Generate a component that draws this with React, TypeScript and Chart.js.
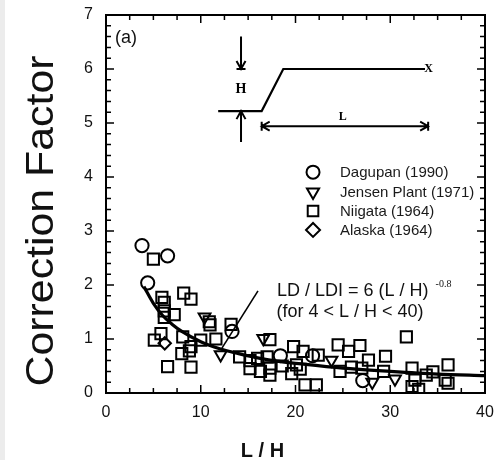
import React, { useEffect, useRef } from 'react';
import { Chart, registerables } from 'chart.js';

Chart.register(...registerables);

// ---- axes ----
const xTickValues = [0, 10, 20, 30, 40];
const yTickValues = [0, 1, 2, 3, 4, 5, 6, 7];
const xMinorStep = 2.5;
const yMinorStep = 0.2;

// ---- series ----
const seriesLabels = ['Dagupan (1990)', 'Jensen Plant (1971)', 'Niigata (1964)', 'Alaska (1964)'];

const dagupan: [number, number][] = [
  [3.8, 2.73], [6.5, 2.54], [4.4, 2.04], [13.3, 1.14], [18.4, 0.69], [21.8, 0.69], [27.1, 0.23],
];

const jensen: [number, number][] = [
  [10.4, 1.41], [12.1, 0.71], [16.6, 1.01], [23.8, 0.61], [28.1, 0.2], [30.5, 0.26],
];

const niigata: [number, number][] = [
  [5.0, 2.48], [5.9, 1.77], [6.15, 1.68], [6.15, 1.52], [7.2, 1.45], [6.15, 1.4], [5.8, 1.1],
  [5.1, 0.98], [8.2, 1.85], [8.97, 1.74], [8.1, 1.04], [8.97, 0.86], [8.8, 0.78], [8.0, 0.73],
  [6.5, 0.49], [8.97, 0.48], [10.0, 0.98], [10.9, 1.32], [10.98, 1.26], [11.6, 1.0], [13.2, 1.27],
  [14.1, 0.67], [15.2, 0.6], [15.2, 0.45], [16.0, 0.64], [16.3, 0.4], [17.0, 0.67], [17.3, 0.99],
  [17.3, 0.33], [17.3, 0.46], [18.6, 0.5], [19.6, 0.36], [19.8, 0.86], [20.1, 0.52], [20.5, 0.44],
  [20.8, 0.77], [21.0, 0.15], [22.2, 0.15], [22.4, 0.7], [24.5, 0.89], [25.6, 0.77], [26.8, 0.88],
  [24.7, 0.4], [25.9, 0.48], [27.0, 0.46], [27.7, 0.61], [29.5, 0.68], [29.3, 0.4], [31.7, 1.04],
  [32.3, 0.46], [32.6, 0.24], [33.0, 0.07], [32.3, 0.12], [33.8, 0.33], [34.5, 0.39], [36.1, 0.52],
  [35.8, 0.24], [36.1, 0.18],
];

const alaska: [number, number][] = [[6.2, 0.92]];

// fitted curve
const fitX = [4, 5, 6, 7, 8, 10, 12, 14, 16, 18, 20, 25, 30, 35, 40];
const fitY = [1.97, 1.66, 1.43, 1.27, 1.14, 0.95, 0.82, 0.73, 0.65, 0.59, 0.55, 0.46, 0.4, 0.35, 0.32];

// inset sketch (data units)
const profileX = [11.84, 16.43, 18.71, 33.67];
const profileY = [5.22, 5.22, 6.0, 6.0];
const hArrowX = 14.25;
const hArrowDownY = [6.6, 6.0];
const hArrowUpY = [4.65, 5.22];
const lArrowX = [16.43, 34.0];
const lArrowY = 4.94;
const pointerLine: [number, number][] = [[16.04, 1.89], [12.24, 0.83]];

const SANS = '"Liberation Sans", Arial, Helvetica, sans-serif';
const SERIF = '"Liberation Serif", "Times New Roman", serif';

type Style = 'circle' | 'triangleDown' | 'rect' | 'rectRot';

function drawMarker(ctx: CanvasRenderingContext2D, style: Style, x: number, y: number, r: number) {
  ctx.beginPath();
  if (style === 'circle') {
    ctx.arc(x, y, r, 0, Math.PI * 2);
  } else if (style === 'triangleDown') {
    ctx.moveTo(x - r * 0.866, y - r * 0.5);
    ctx.lineTo(x + r * 0.866, y - r * 0.5);
    ctx.lineTo(x, y + r);
    ctx.closePath();
  } else if (style === 'rect') {
    const s = r * Math.SQRT1_2;
    ctx.rect(x - s, y - s, 2 * s, 2 * s);
  } else {
    ctx.moveTo(x - r, y);
    ctx.lineTo(x, y - r);
    ctx.lineTo(x + r, y);
    ctx.lineTo(x, y + r);
    ctx.closePath();
  }
  ctx.stroke();
}

const legendStyles: Style[] = ['circle', 'triangleDown', 'rect', 'rectRot'];
const legendRadii = [6.5, 7, 7.5, 7];

const decorPlugin = {
  id: 'decor',
  beforeDraw(chart: any) {
    const ctx = chart.ctx as CanvasRenderingContext2D;
    ctx.save();
    ctx.fillStyle = '#ffffff';
    ctx.fillRect(0, 0, chart.width, chart.height);
    ctx.fillStyle = '#ececec';
    ctx.fillRect(0, 0, 5, chart.height);
    ctx.restore();
  },
  afterDraw(chart: any) {
    const ctx = chart.ctx as CanvasRenderingContext2D;
    const xs = chart.scales.x;
    const ys = chart.scales.y;
    const { left, right, top, bottom } = chart.chartArea;
    const X = (v: number) => xs.getPixelForValue(v);
    const Y = (v: number) => ys.getPixelForValue(v);
    ctx.save();
    ctx.strokeStyle = '#000';
    ctx.fillStyle = '#000';

    // ticks (inward, all four sides)
    ctx.lineWidth = 1.5;
    ctx.beginPath();
    for (let v = 0; v <= 40 + 1e-9; v += xMinorStep) {
      const major = xTickValues.some((t) => Math.abs(t - v) < 1e-6);
      const len = major ? 8 : 5;
      const px = X(v);
      ctx.moveTo(px, bottom); ctx.lineTo(px, bottom - len);
      ctx.moveTo(px, top); ctx.lineTo(px, top + len);
    }
    for (let v = 0; v <= 7 + 1e-9; v += yMinorStep) {
      const major = yTickValues.some((t) => Math.abs(t - v) < 1e-6);
      const len = major ? 8 : 5;
      const py = Y(v);
      ctx.moveTo(left, py); ctx.lineTo(left + len, py);
      ctx.moveTo(right, py); ctx.lineTo(right - len, py);
    }
    ctx.stroke();

    // frame
    ctx.lineWidth = 2;
    ctx.strokeRect(left, top, right - left, bottom - top);

    // axis titles
    ctx.fillStyle = '#111';
    ctx.save();
    ctx.font = `39px ${SANS}`;
    const yTitle = 'Correction Factor';
    const w = ctx.measureText(yTitle).width;
    ctx.translate(53, 221);
    ctx.rotate(-Math.PI / 2);
    ctx.scale(331 / w, 1);
    ctx.textAlign = 'center';
    ctx.textBaseline = 'alphabetic';
    ctx.fillText(yTitle, 0, 0);
    ctx.restore();

    ctx.font = `bold 20px ${SANS}`;
    ctx.textAlign = 'center';
    ctx.textBaseline = 'alphabetic';
    ctx.fillText('L / H', 262.5, 457);

    // panel label
    ctx.font = `18px ${SANS}`;
    ctx.textAlign = 'left';
    ctx.fillText('(a)', X(0.95), Y(6.48));

    // legend
    ctx.lineWidth = 2;
    ctx.strokeStyle = '#000';
    const legendY = [4.09, 3.72, 3.37, 3.02];
    ctx.font = `15px ${SANS}`;
    ctx.textBaseline = 'middle';
    seriesLabels.forEach((lab, i) => {
      drawMarker(ctx, legendStyles[i], X(21.85), Y(legendY[i]), legendRadii[i]);
      ctx.fillStyle = '#1a1a1a';
      ctx.fillText(lab, X(24.7), Y(legendY[i]) + 1);
    });

    // fit annotation
    ctx.fillStyle = '#111';
    ctx.textBaseline = 'alphabetic';
    ctx.font = `18px ${SANS}`;
    const line1 = 'LD / LDI = 6 (L / H)';
    const ax = X(18.05);
    ctx.fillText(line1, ax, Y(1.8));
    const l1w = ctx.measureText(line1).width;
    ctx.fillText('(for 4 < L / H < 40)', X(18.0), Y(1.41));
    ctx.font = `10px ${SERIF}`;
    ctx.fillText('-0.8', ax + l1w + 7, Y(1.8) - 9);

    // pointer line
    ctx.lineWidth = 1.6;
    ctx.beginPath();
    ctx.moveTo(X(pointerLine[0][0]), Y(pointerLine[0][1]));
    ctx.lineTo(X(pointerLine[1][0]), Y(pointerLine[1][1]));
    ctx.stroke();

    // inset arrows
    ctx.lineWidth = 2;
    const hx = X(hArrowX);
    const arrowV = (y0: number, y1: number) => {
      const p0 = Y(y0), p1 = Y(y1);
      const dir = p1 > p0 ? 1 : -1;
      ctx.beginPath();
      ctx.moveTo(hx, p0); ctx.lineTo(hx, p1);
      ctx.moveTo(hx - 4.5, p1 - dir * 8); ctx.lineTo(hx, p1); ctx.lineTo(hx + 4.5, p1 - dir * 8);
      ctx.moveTo(hx - 4.5, p1); ctx.lineTo(hx + 4.5, p1);
      ctx.stroke();
    };
    arrowV(hArrowDownY[0], hArrowDownY[1]);
    arrowV(hArrowUpY[0], hArrowUpY[1]);

    const ly = Y(lArrowY);
    const lx0 = X(lArrowX[0]), lx1 = X(lArrowX[1]);
    ctx.beginPath();
    ctx.moveTo(lx0, ly); ctx.lineTo(lx1, ly);
    ctx.moveTo(lx0 + 8, ly - 4.5); ctx.lineTo(lx0, ly); ctx.lineTo(lx0 + 8, ly + 4.5);
    ctx.moveTo(lx1 - 8, ly - 4.5); ctx.lineTo(lx1, ly); ctx.lineTo(lx1 - 8, ly + 4.5);
    ctx.moveTo(lx0, ly - 4.5); ctx.lineTo(lx0, ly + 4.5);
    ctx.moveTo(lx1, ly - 4.5); ctx.lineTo(lx1, ly + 4.5);
    ctx.stroke();

    ctx.fillStyle = '#000';
    ctx.textAlign = 'center';
    ctx.textBaseline = 'middle';
    ctx.font = `bold 14px ${SERIF}`;
    ctx.fillText('H', hx, Y(5.63));
    ctx.font = `bold 12px ${SERIF}`;
    ctx.fillText('L', X(25.0), Y(5.11));
    ctx.fillText('X', X(34.05), Y(6.0));
    ctx.restore();
  },
};

export default function App() {
  const ref = useRef<HTMLCanvasElement | null>(null);
  useEffect(() => {
    if (!ref.current) return;
    const toPts = (arr: [number, number][]) => arr.map(([x, y]) => ({ x, y }));
    const markerBase = {
      type: 'scatter' as const,
      backgroundColor: 'rgba(0,0,0,0)',
      borderColor: '#000',
      borderWidth: 2,
      showLine: false,
    };
    const chart = new Chart(ref.current, {
      type: 'scatter',
      data: {
        datasets: [
          {
            type: 'scatter',
            label: 'fit',
            data: fitX.map((x, i) => ({ x, y: fitY[i] })),
            showLine: true,
            borderColor: '#000',
            borderWidth: 3.2,
            pointRadius: 0,
            cubicInterpolationMode: 'monotone',
            fill: false,
          } as any,
          {
            type: 'scatter',
            label: 'profile',
            data: profileX.map((x, i) => ({ x, y: profileY[i] })),
            showLine: true,
            borderColor: '#000',
            borderWidth: 2.2,
            pointRadius: 0,
            tension: 0,
            fill: false,
          } as any,
          { ...markerBase, label: seriesLabels[0], data: toPts(dagupan), pointStyle: 'circle', pointRadius: 6.6 },
          { ...markerBase, label: seriesLabels[1], data: toPts(jensen), pointStyle: 'triangle', rotation: 180, pointRadius: 6.8 },
          { ...markerBase, label: seriesLabels[2], data: toPts(niigata), pointStyle: 'rect', pointRadius: 7.9 },
          { ...markerBase, label: seriesLabels[3], data: toPts(alaska), pointStyle: 'rectRot', pointRadius: 6.2 },
        ] as any,
      },
      options: {
        animation: false,
        responsive: false,
        events: [],
        layout: { padding: { left: 0, top: 15, right: 14, bottom: 0 } },
        plugins: { legend: { display: false }, tooltip: { enabled: false }, title: { display: false } },
        scales: {
          x: {
            type: 'linear',
            min: 0,
            max: 40,
            afterBuildTicks: (s: any) => { s.ticks = xTickValues.map((value) => ({ value })); },
            ticks: { font: { size: 16, family: SANS }, color: '#111', padding: 10, maxRotation: 0, autoSkip: false },
            grid: { display: false, drawTicks: false },
            border: { display: false },
            afterFit: (s: any) => { s.height = 67; s.paddingLeft = 0; s.paddingRight = 0; },
          },
          y: {
            type: 'linear',
            min: 0,
            max: 7,
            afterBuildTicks: (s: any) => { s.ticks = yTickValues.map((value) => ({ value })); },
            ticks: { font: { size: 16, family: SANS }, color: '#111', padding: 13, autoSkip: false },
            grid: { display: false, drawTicks: false },
            border: { display: false },
            afterFit: (s: any) => { s.width = 106; s.paddingTop = 0; s.paddingBottom = 0; },
          },
        },
      } as any,
      plugins: [decorPlugin],
    });
    return () => chart.destroy();
  }, []);
  return (
    <div style={{ position: 'absolute', left: 0, top: 0, width: 499, height: 460 }}>
      <canvas ref={ref} width={499} height={460} style={{ display: 'block' }} />
    </div>
  );
}
